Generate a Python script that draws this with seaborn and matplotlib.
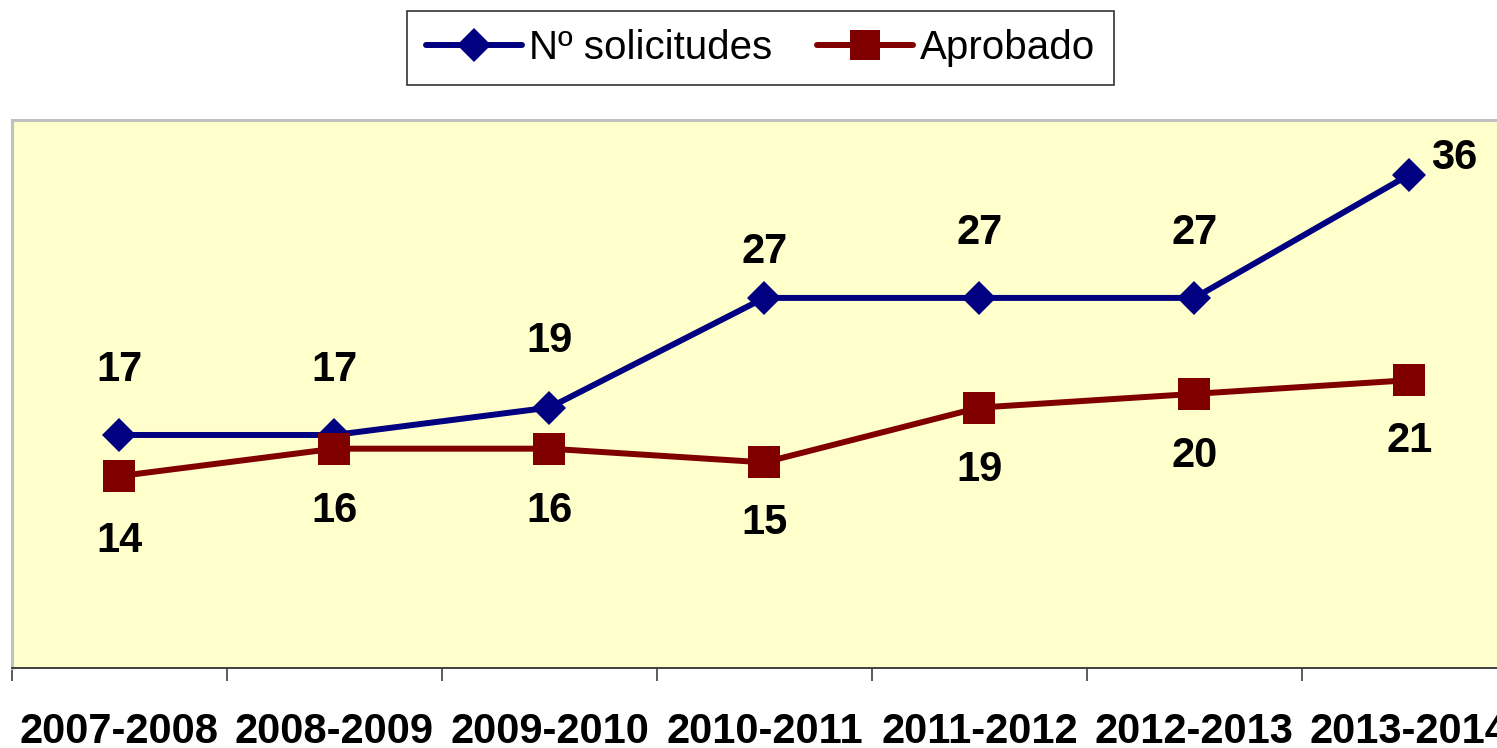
import pandas as pd
import matplotlib
matplotlib.use('Agg')
import matplotlib.pyplot as plt
import seaborn as sns

# Data
cursos = ['2007-2008', '2008-2009', '2009-2010', '2010-2011', '2011-2012', '2012-2013', '2013-2014']
solicitudes = [17, 17, 19, 27, 27, 27, 36]
aprobado = [14, 16, 16, 15, 19, 20, 21]

sns.set_style('white')
plt.rcParams['font.family'] = ['Liberation Sans', 'DejaVu Sans']
plt.rcParams['text.color'] = 'black'
plt.rcParams['xtick.color'] = 'black'
plt.rcParams['xtick.labelcolor'] = 'black'

df_sol = pd.DataFrame({'curso': cursos, 'valor': solicitudes})
df_apr = pd.DataFrame({'curso': cursos, 'valor': aprobado})

fig = plt.figure(figsize=(14.97, 7.48), dpi=100)
ax = fig.add_axes([0.008, 0.107, 1.0053, 0.7329])
ax.set_facecolor('#FFFFCC')

sns.lineplot(data=df_sol, x='curso', y='valor', ax=ax, color='#000080', lw=4.3,
             marker='D', markersize=17.5, markeredgewidth=0, label='Nº solicitudes')
sns.lineplot(data=df_apr, x='curso', y='valor', ax=ax, color='#800000', lw=4.3,
             marker='s', markersize=23, markeredgewidth=0, label='Aprobado')

# data labels (Excel-style placement)
off_sol = [(0, 47), (0, 47), (0, 48), (0, 33), (0, 47), (0, 47), (32, 12)]
off_apr = [(0, -47), (0, -45), (0, -45), (0, -44), (0, -45), (0, -45), (0, -44)]
for i, v in enumerate(solicitudes):
    ax.annotate(str(v), (i, v), xytext=off_sol[i], textcoords='offset points',
                ha='center', va='center', fontsize=30, fontweight='bold', color='black')
for i, v in enumerate(aprobado):
    ax.annotate(str(v), (i, v), xytext=off_apr[i], textcoords='offset points',
                ha='center', va='center', fontsize=30, fontweight='bold', color='black')

ax.set_xlim(-0.5, len(cursos) - 0.5)
ax.set_ylim(0, 40)
ax.set_yticks([])
ax.set_xlabel('')
ax.set_ylabel('')

ax.set_xticks(range(len(cursos)))
ax.set_xticklabels(cursos, fontsize=30, fontweight='bold', color='black')
ax.set_xticks([i - 0.5 for i in range(len(cursos) + 1)], minor=True)
ax.tick_params(axis='x', which='major', length=0, pad=32)
ax.tick_params(axis='x', which='minor', length=9.5, width=1.2, color='#404040', direction='out', bottom=True)

for s in ['top', 'left', 'right']:
    ax.spines[s].set_color('#C0C0C0')
    ax.spines[s].set_linewidth(2.2)
ax.spines['bottom'].set_color('#404040')
ax.spines['bottom'].set_linewidth(1.4)

ax.get_legend().remove()
handles, labels = ax.get_legend_handles_labels()
leg = fig.legend(handles, labels, loc='center', bbox_to_anchor=(0.508, 0.936), ncol=2,
                 fontsize=29, frameon=True, fancybox=False, edgecolor='black',
                 handlelength=2.4, handletextpad=0.17, columnspacing=1.1,
                 borderpad=0.45, labelcolor='black')
leg.get_frame().set_linewidth(1.2)
for h, ms in zip(leg.legend_handles, [17, 21]):
    h.set_markersize(ms)

fig.savefig('out.png', dpi=100)
